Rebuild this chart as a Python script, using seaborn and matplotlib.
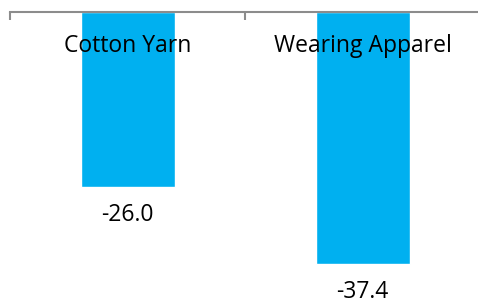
import matplotlib
matplotlib.use("Agg")
import matplotlib.pyplot as plt
import matplotlib.transforms as mtransforms
import seaborn as sns
import pandas as pd

categories = ["Cotton Yarn", "Wearing Apparel"]
values = [-26.0, -37.4]
value_labels = ["-26.0", "-37.4"]

data = pd.DataFrame({"category": categories, "value": values})

sns.set_style("white")
plt.rcParams['font.family'] = ['Open Sans', 'DejaVu Sans']

fig = plt.figure(figsize=(4.78, 3.02), dpi=100)
ax = fig.add_axes([10 / 478, 0.0, 470 / 478, 1 - 12 / 302])

sns.barplot(data=data, x="category", y="value", color="#00B0F0",
            saturation=1, width=0.4, ax=ax)

ax.set_xlim(-0.5, 1.5)
ax.set_ylim(-43.1, 0)

# only the top spine, grey, with ticks between categories
for side in ["left", "right", "bottom"]:
    ax.spines[side].set_visible(False)
ax.spines["top"].set_visible(True)
ax.spines["top"].set_color("#8c8c8c")
ax.spines["top"].set_linewidth(1.5)

ax.xaxis.set_ticks_position("top")
ax.set_xticks([-0.5, 0.5, 1.5])
ax.set_xticklabels([])
ax.tick_params(axis="x", direction="in", length=6, width=1.5, color="#8c8c8c")
ax.set_yticks([])
ax.set_xlabel("")
ax.set_ylabel("")

# category labels under the axis line
trans = mtransforms.blended_transform_factory(ax.transData, ax.transAxes)
for i, name in enumerate(categories):
    ax.text(i, 1 - 34 / 290, name, transform=trans, ha="center", va="center",
            fontsize=16.5, color="black", zorder=5)

# value labels below bars
for i, (v, lab) in enumerate(zip(values, value_labels)):
    ax.annotate(lab, (i, v), xytext=(0, -28 * 72 / 100), textcoords="offset points",
                ha="center", va="center", fontsize=16.5, color="black")

fig.savefig("out.png", dpi=100)
